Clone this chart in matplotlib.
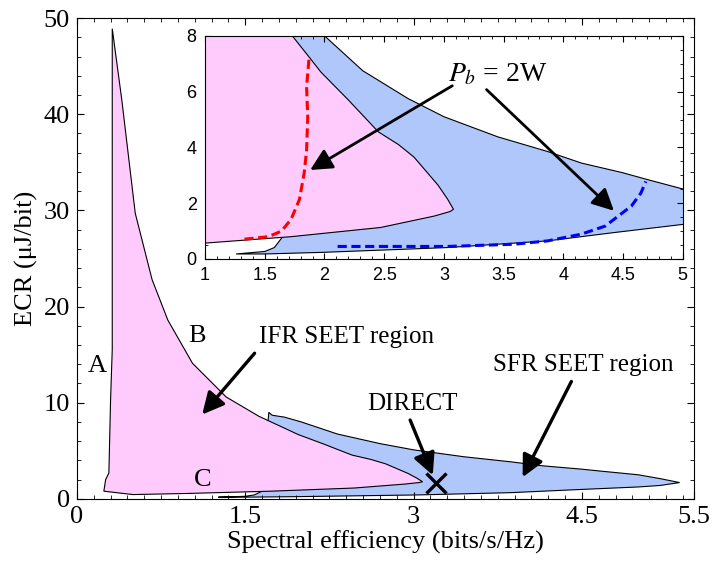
import matplotlib.pyplot as plt
import numpy as np

plt.rcParams['font.family'] = ['Liberation Serif', 'DejaVu Serif']
plt.rcParams['mathtext.fontset'] = 'stix'

# IFR SEET region outline (spectral efficiency, ECR)
ifr_x = [0.315, 0.40, 0.52, 0.67, 0.81, 1.03, 1.33, 1.62, 1.73, 1.86, 1.97, 2.2, 2.45,
         2.62, 2.75, 2.85, 2.95, 3.03, 3.08, 3.05, 2.92, 2.47, 1.72, 1.0, 0.5, 0.24,
         0.256, 0.285, 0.30, 0.31, 0.315]
ifr_y = [48.9, 41.5, 29.7, 22.8, 18.6, 14.1, 10.6, 8.6, 8.0, 7.3, 6.7, 5.7, 4.56,
         4.1, 3.65, 3.15, 2.65, 2.15, 1.78, 1.7, 1.54, 1.13, 0.8, 0.57, 0.45, 0.8,
         2.0, 2.7, 10.3, 13.8, 15.5]

# SFR SEET region outline
sfr_x = [1.71, 1.74, 1.85, 2.0, 2.32, 2.7, 3.0, 3.45, 3.87, 4.15, 4.49, 4.71, 5.0,
         5.2, 5.37, 5.2, 5.0, 4.43, 3.87, 3.03, 2.0, 1.5, 1.26, 1.5, 1.58, 1.65]
sfr_y = [9.0, 8.7, 8.5, 8.0, 6.75, 5.75, 5.1, 4.38, 3.85, 3.44, 3.1, 2.84, 2.51,
         2.1, 1.7, 1.4, 1.24, 0.95, 0.65, 0.41, 0.24, 0.18, 0.18, 0.27, 0.41, 0.8]

# Pb = 2W curves
red_x = [1.33, 1.53, 1.64, 1.72, 1.79, 1.83, 1.85, 1.86, 1.85, 1.87]
red_y = [0.71, 0.8, 1.0, 1.42, 2.13, 3.08, 3.9, 5.1, 6.16, 7.17]
blue_x = [2.11, 3.03, 3.59, 3.87, 4.15, 4.35, 4.46, 4.57, 4.65, 4.69]
blue_y = [0.45, 0.45, 0.53, 0.65, 0.89, 1.18, 1.54, 1.9, 2.37, 2.78]

direct_x, direct_y = 3.2, 1.65

pink = '#FFCAFC'
lblue = '#AFC7FA'

fig = plt.figure(figsize=(7.12, 5.65), dpi=100)
ax = fig.add_axes([0.108, 0.117, 0.867, 0.851])

def draw_regions(a):
    a.fill(sfr_x, sfr_y, facecolor=lblue, edgecolor='black', lw=0.8, zorder=1)
    a.fill(ifr_x, ifr_y, facecolor=pink, edgecolor='black', lw=0.8, zorder=2)

draw_regions(ax)
ax.plot(direct_x, direct_y, 'x', color='black', ms=14, mew=2.4, zorder=5)

ax.set_xlim(0, 5.5)
ax.set_ylim(0, 50)
ax.set_xticks([0, 1.5, 3, 4.5, 5.5])
ax.set_xticklabels(['0', '1.5', '3', '4.5', '5.5'])
ax.set_xticks(np.arange(0, 5.5, 0.15), minor=True)
ax.set_yticks([0, 10, 20, 30, 40, 50])
ax.set_yticks(np.arange(0, 50, 2), minor=True)
ax.tick_params(which='both', direction='in', top=True, right=True, labelsize=19)
ax.tick_params(which='major', length=5, pad=5)
ax.tick_params(which='minor', length=3)
ax.set_xlabel('Spectral efficiency (bits/s/Hz)', fontsize=19, labelpad=2)
ax.set_ylabel('ECR (\u03bcJ/bit)', fontsize=19, labelpad=4)

ax.text(0.18, 13.8, 'A', fontsize=19, ha='center', va='center')
ax.text(1.07, 16.9, 'B', fontsize=19, ha='center', va='center')
ax.text(1.12, 2.0, 'C', fontsize=19, ha='center', va='center')

arr = dict(arrowstyle='-|>,head_length=0.6,head_width=0.3', color='black', lw=2.4,
           mutation_scale=22)
ax.annotate('IFR SEET region', xy=(1.10, 8.55), xytext=(2.40, 16.8), fontsize=18,
            ha='center', va='center', arrowprops=dict(arr, relpos=(0.0, 0.0)))
ax.annotate('SFR SEET region', xy=(3.96, 2.0), xytext=(4.51, 13.9), fontsize=18,
            ha='center', va='center', arrowprops=dict(arr, relpos=(0.45, 0.0)))
ax.annotate('DIRECT', xy=(3.18, 2.2), xytext=(2.99, 9.9), fontsize=18,
            ha='center', va='center', arrowprops=dict(arr, relpos=(0.45, 0.0)))

# inset
ins = fig.add_axes([0.288, 0.5416, 0.671, 0.395])
draw_regions(ins)
ins.plot(red_x, red_y, '--', color='red', lw=2.2, dashes=(3, 1.5), zorder=4)
ins.plot(blue_x, blue_y, '--', color='blue', lw=2.2, dashes=(3, 1.5), zorder=4)
ins.set_xlim(1, 5)
ins.set_ylim(0, 8)
ins.set_xticks([1, 1.5, 2, 2.5, 3, 3.5, 4, 4.5, 5])
ins.set_xticks(np.arange(1, 5, 0.1), minor=True)
ins.set_yticks([0, 2, 4, 6, 8])
ins.set_yticks(np.arange(0, 8, 0.5), minor=True)
ins.set_xticklabels(['1', '1.5', '2', '2.5', '3', '3.5', '4', '4.5', '5'])
ins.tick_params(which='both', direction='in', top=True, right=True, labelsize=13)
ins.tick_params(which='major', length=4, pad=6)
ins.tick_params(which='minor', length=2)
for lab in ins.get_xticklabels() + ins.get_yticklabels():
    lab.set_family(['Liberation Sans', 'DejaVu Sans'])

ins.text(3.45, 6.6, '$P_b$ = 2W', fontsize=20, ha='center', va='center', zorder=6)
arr2 = dict(arrowstyle='-|>,head_length=0.6,head_width=0.3', color='black', lw=2.0,
            mutation_scale=22)
ins.annotate('', xy=(1.86, 3.14), xytext=(3.09, 6.26), arrowprops=arr2)
ins.annotate('', xy=(4.44, 1.66), xytext=(3.34, 6.14), arrowprops=arr2)

fig.savefig('out.png', dpi=100)
